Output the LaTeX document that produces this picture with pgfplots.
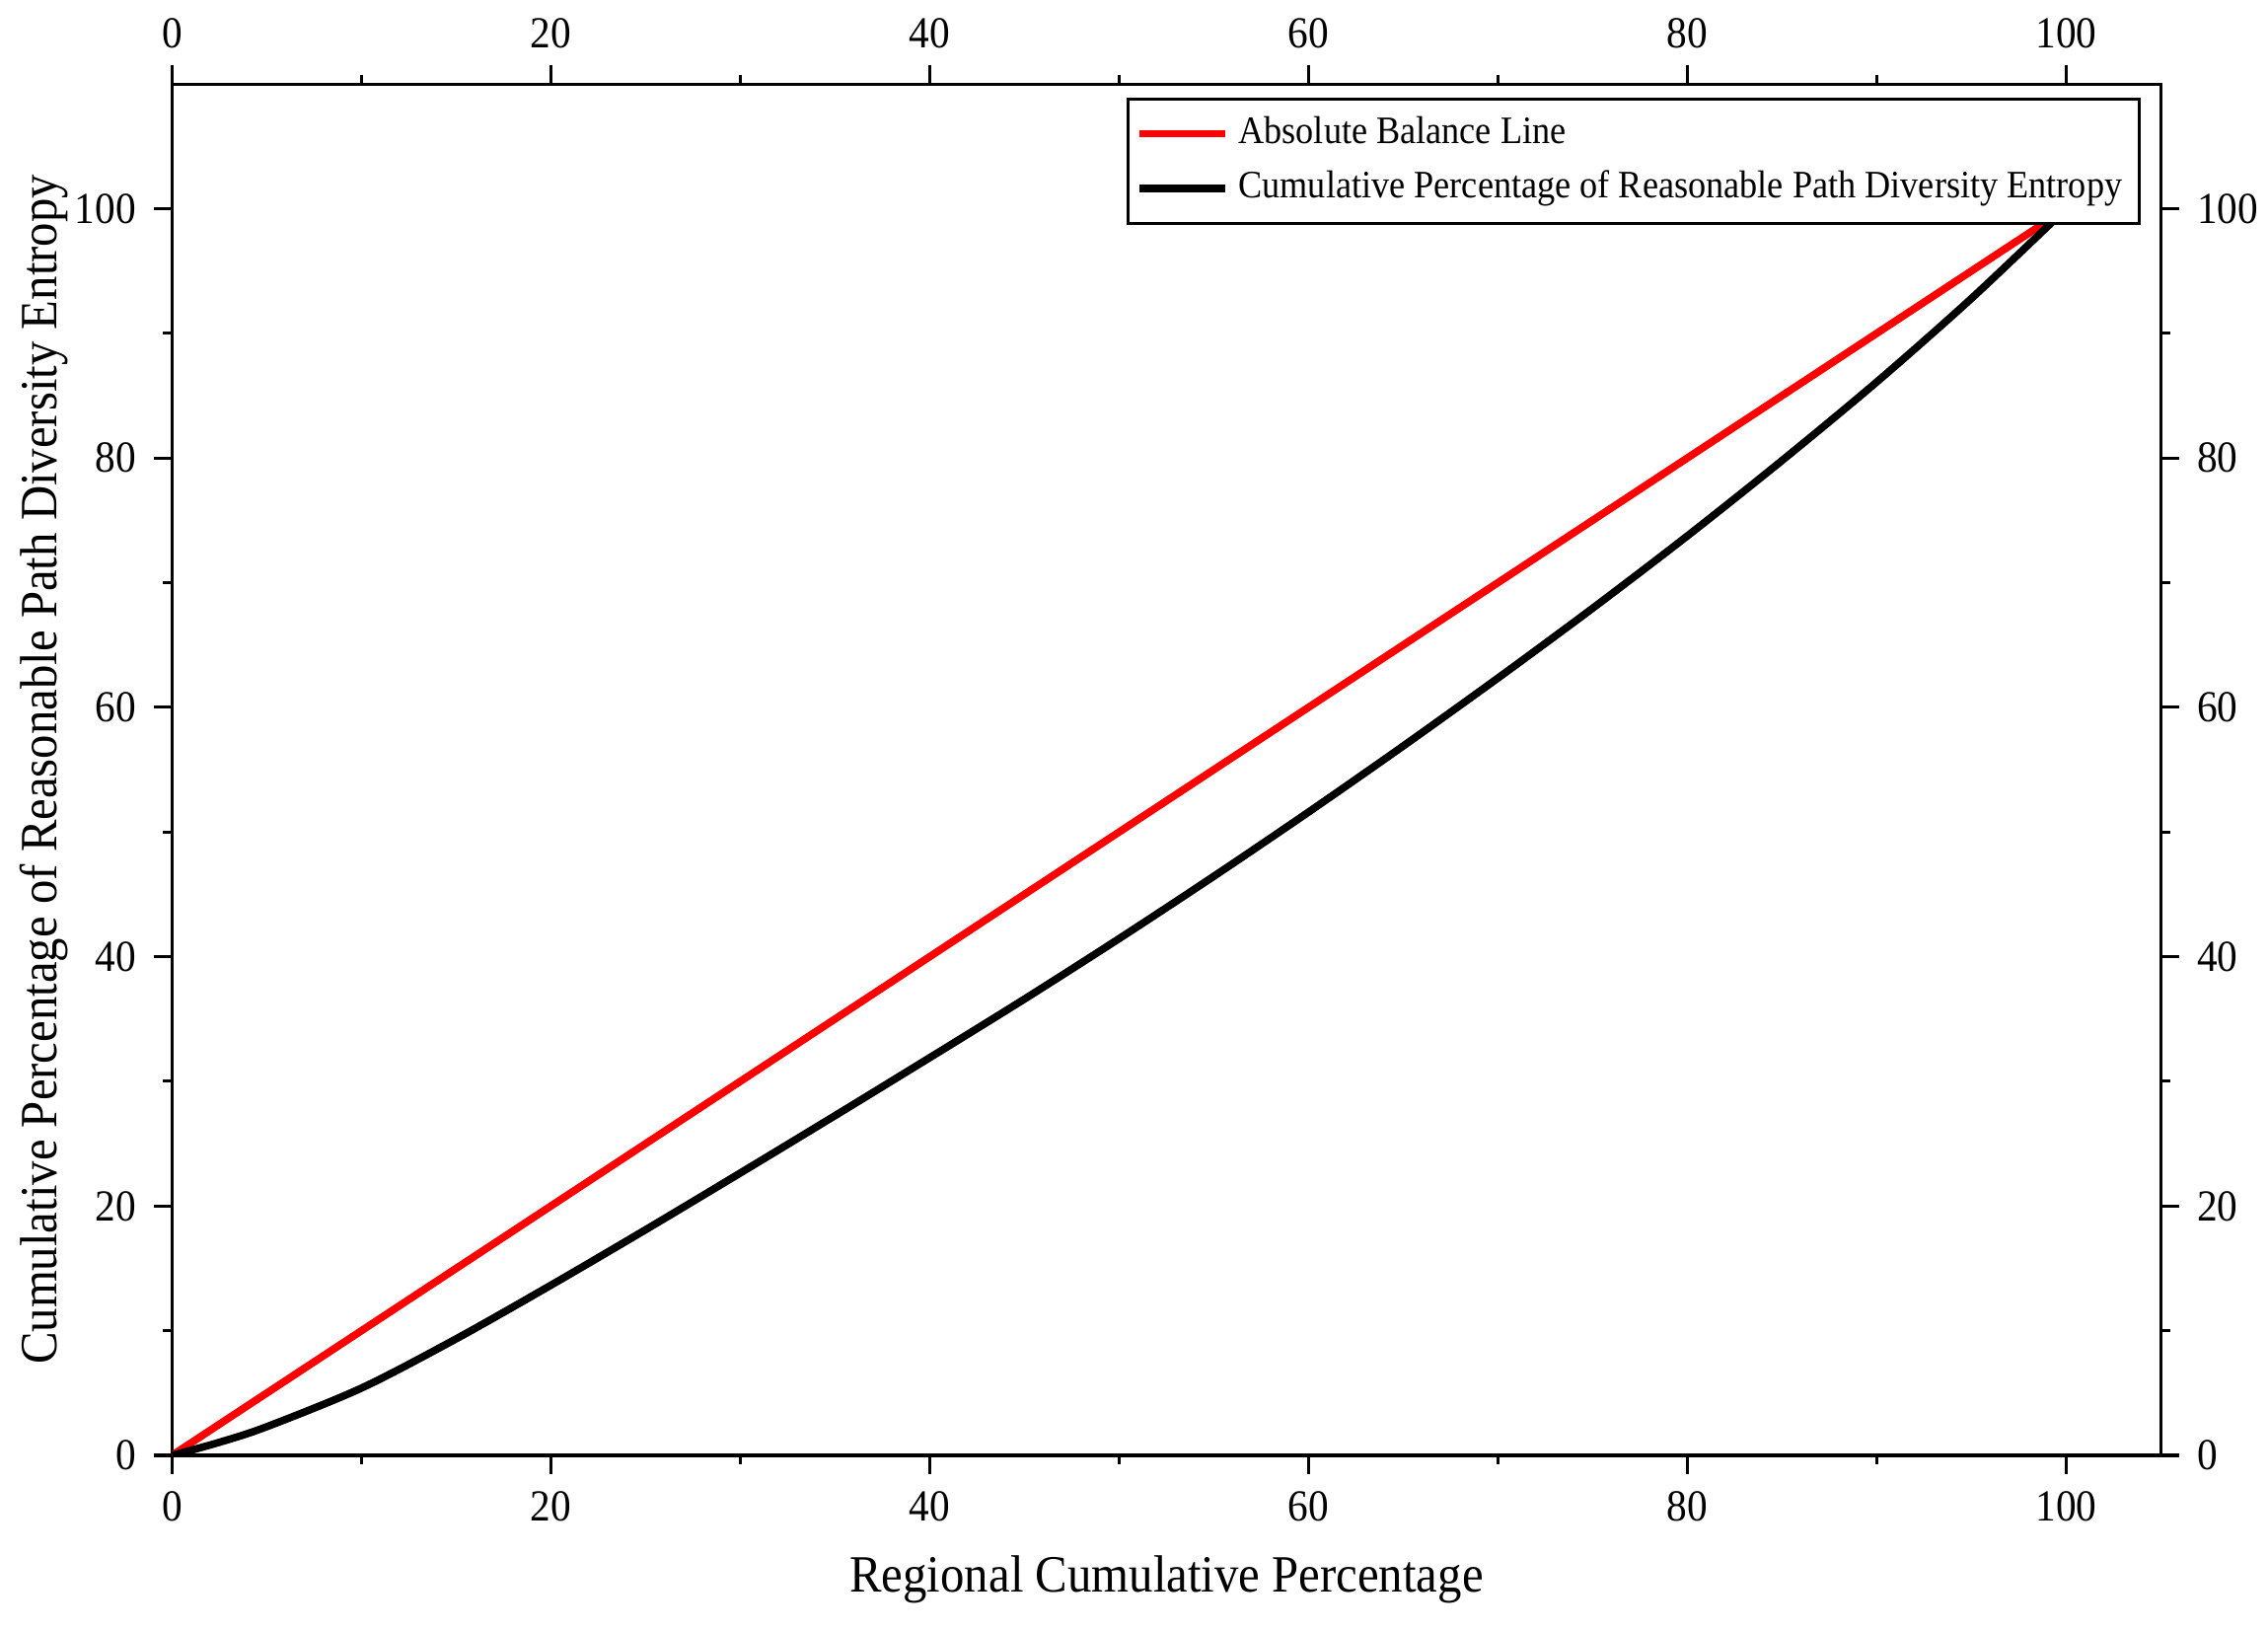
\documentclass[border=0pt]{standalone}
\usepackage{fontspec}
\setmainfont[FakeStretch=0.92]{Liberation Serif}
\usepackage{pgfplots}
\usepackage{pgfplotstable}
\pgfplotsset{compat=1.18}
\pgfplotstableread{
x y
0 0
2.5 1.05
5 2.3
10 5.4
15 9.35
20 13.65
25 18.1
30 22.65
35 27.25
40 31.9
45 36.6
50 41.45
55 46.45
60 51.6
65 56.9
70 62.35
75 67.95
80 73.75
85 79.8
90 86.1
95 92.8
100 100
}\lorenz
\pgfplotstableread{
x y
0 0
100 100
}\balance
\begin{document}
\begin{tikzpicture}
\path[use as bounding box] (-1.214cm,-1.235cm) rectangle (14.785cm,10.265cm);
\pgfplotsset{common/.style={
  width=14.03cm,height=9.673cm,scale only axis,
  xmin=0,xmax=105,ymin=0,ymax=110,
  xtick={0,20,...,100}, ytick={0,20,...,100},
  minor xtick={10,30,...,90}, minor ytick={10,30,...,90},
  tick align=outside,
  major tick length=0.13cm, minor tick length=0.065cm,
  axis line style={line width=0.6pt,black},
  every tick/.append style={black,line width=0.6pt},
  tick label style={font=\fontsize{8.9}{10}\selectfont,black},
  /pgf/number format/assume math mode=true,
}}
\begin{axis}[common,
  xtick pos=right, ytick pos=right,
  xticklabel pos=right, yticklabel pos=right]
\end{axis}
\begin{axis}[common,
  xtick pos=left, ytick pos=left,
  xticklabel pos=left, yticklabel pos=left,
  xlabel={Regional Cumulative Percentage},
  ylabel={Cumulative Percentage of Reasonable Path Diversity Entropy},
  label style={font=\fontsize{10.5}{12}\selectfont},
  xlabel style={at={(axis description cs:0.5,-0.0993)},anchor=base},
  ylabel style={at={(axis description cs:-0.0582,0.5)},anchor=base,rotate=0},
  legend style={at={(0.99,0.99)},anchor=north east,draw=black,line width=0.6pt,
    font=\fontsize{7.8}{9}\selectfont,inner sep=1.5pt,row sep=0pt,
    cells={anchor=west}},
  legend image code/.code={\draw[#1] (0cm,0cm) -- (0.6cm,0cm);},
]
\addplot[red,line width=1.5pt] table[x=x,y=y]{\balance};
\addlegendentry{Absolute Balance Line}
\addplot[black,line width=1.5pt,smooth] table[x=x,y=y]{\lorenz};
\addlegendentry{Cumulative Percentage of Reasonable Path Diversity Entropy}
\end{axis}
\end{tikzpicture}
\end{document}
